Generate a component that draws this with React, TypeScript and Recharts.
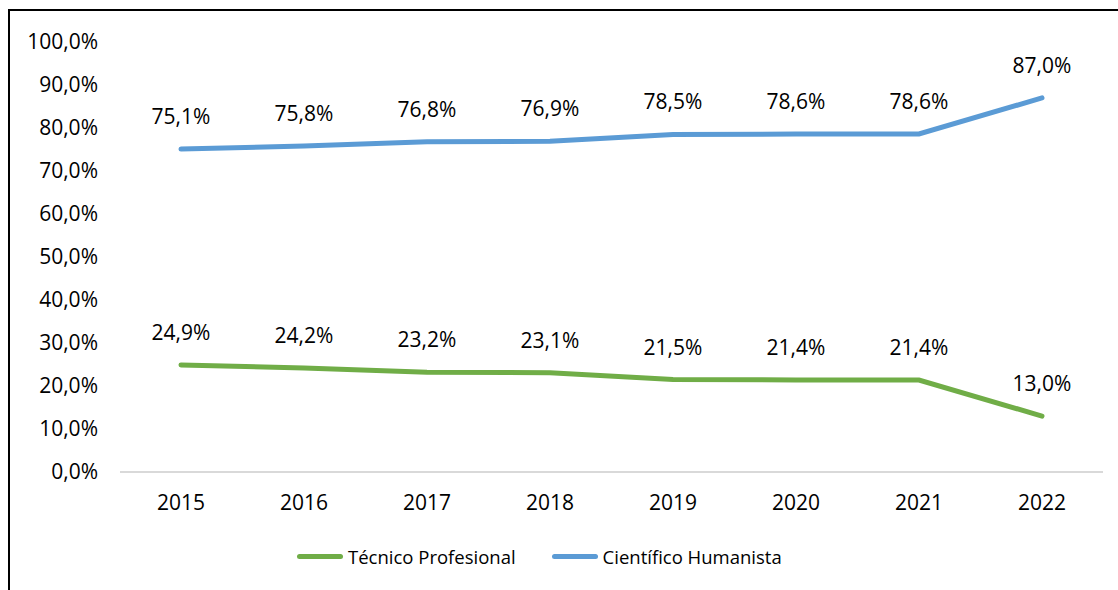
import React from 'react';
import { LineChart, Line, XAxis, YAxis, Legend, LabelList } from 'recharts';

const years = ['2015', '2016', '2017', '2018', '2019', '2020', '2021', '2022'];
const tecnico = [24.9, 24.2, 23.2, 23.1, 21.5, 21.4, 21.4, 13.0];
const cientifico = [75.1, 75.8, 76.8, 76.9, 78.5, 78.6, 78.6, 87.0];
const yTicks = [0, 10, 20, 30, 40, 50, 60, 70, 80, 90, 100];
const seriesOrder = ['Técnico Profesional', 'Científico Humanista'];

const data = years.map((y, i) => ({ year: y, tecnico: tecnico[i], cientifico: cientifico[i] }));

const FONT = '"Open Sans", sans-serif';
const NUM_SIZE = 21;
const fmt = (v: number) => v.toFixed(1).replace('.', ',') + '%';

const LegendContent = (props: any) => {
  const payload = [...(props.payload || [])].sort(
    (a: any, b: any) => seriesOrder.indexOf(a.value) - seriesOrder.indexOf(b.value)
  );
  return (
    <div style={{ display: 'flex', alignItems: 'center', height: 24, paddingLeft: 297, fontFamily: FONT, fontSize: 18.5, color: '#000' }}>
      {payload.map((p: any, i: number) => (
        <div key={i} style={{ display: 'flex', alignItems: 'center', marginRight: 36 }}>
          <div style={{ width: 46, height: 5, borderRadius: 3, background: p.color, marginRight: 5 }} />
          <span>{p.value}</span>
        </div>
      ))}
    </div>
  );
};

export default function App() {
  return (
    <div style={{ position: 'absolute', left: 0, top: 0, width: 1118, height: 590, overflow: 'hidden', background: '#fff' }}>
      <div style={{ position: 'absolute', left: 8, top: 9, width: 1300, height: 800, border: '2px solid #000' }} />
      <div style={{ position: 'absolute', left: 0, top: 0 }}>
        <LineChart width={1118} height={590} data={data} margin={{ top: 42, right: 15, bottom: 64, left: 0 }}>
          <XAxis
            dataKey="year"
            stroke="#D9D9D9"
            strokeWidth={2}
            tickLine={false}
            tickSize={0}
            tickMargin={23}
            height={30}
            padding={{ left: 61, right: 61 }}
            tick={{ fill: '#000', fontFamily: FONT, fontSize: NUM_SIZE }}
          />
          <YAxis
            domain={[0, 100]}
            ticks={yTicks}
            interval={0}
            axisLine={false}
            tickLine={false}
            tickSize={0}
            tickMargin={22}
            width={120}
            tickFormatter={fmt}
            tick={{ fill: '#000', fontFamily: FONT, fontSize: NUM_SIZE }}
          />
          <Legend
            verticalAlign="bottom"
            content={<LegendContent />}
            wrapperStyle={{ position: 'absolute', top: 544, left: 0, width: 1118, height: 24 }}
          />
          <Line
            type="linear"
            dataKey="tecnico"
            name="Técnico Profesional"
            stroke="#70AD47"
            strokeWidth={5}
            strokeLinecap="round"
            dot={false}
            activeDot={false}
            isAnimationActive={false}
          >
            <LabelList dataKey="tecnico" position="top" offset={25} formatter={fmt} style={{ fill: '#000', fontFamily: FONT, fontSize: NUM_SIZE }} />
          </Line>
          <Line
            type="linear"
            dataKey="cientifico"
            name="Científico Humanista"
            stroke="#5B9BD5"
            strokeWidth={5}
            strokeLinecap="round"
            dot={false}
            activeDot={false}
            isAnimationActive={false}
          >
            <LabelList dataKey="cientifico" position="top" offset={25} formatter={fmt} style={{ fill: '#000', fontFamily: FONT, fontSize: NUM_SIZE }} />
          </Line>
        </LineChart>
      </div>
    </div>
  );
}
